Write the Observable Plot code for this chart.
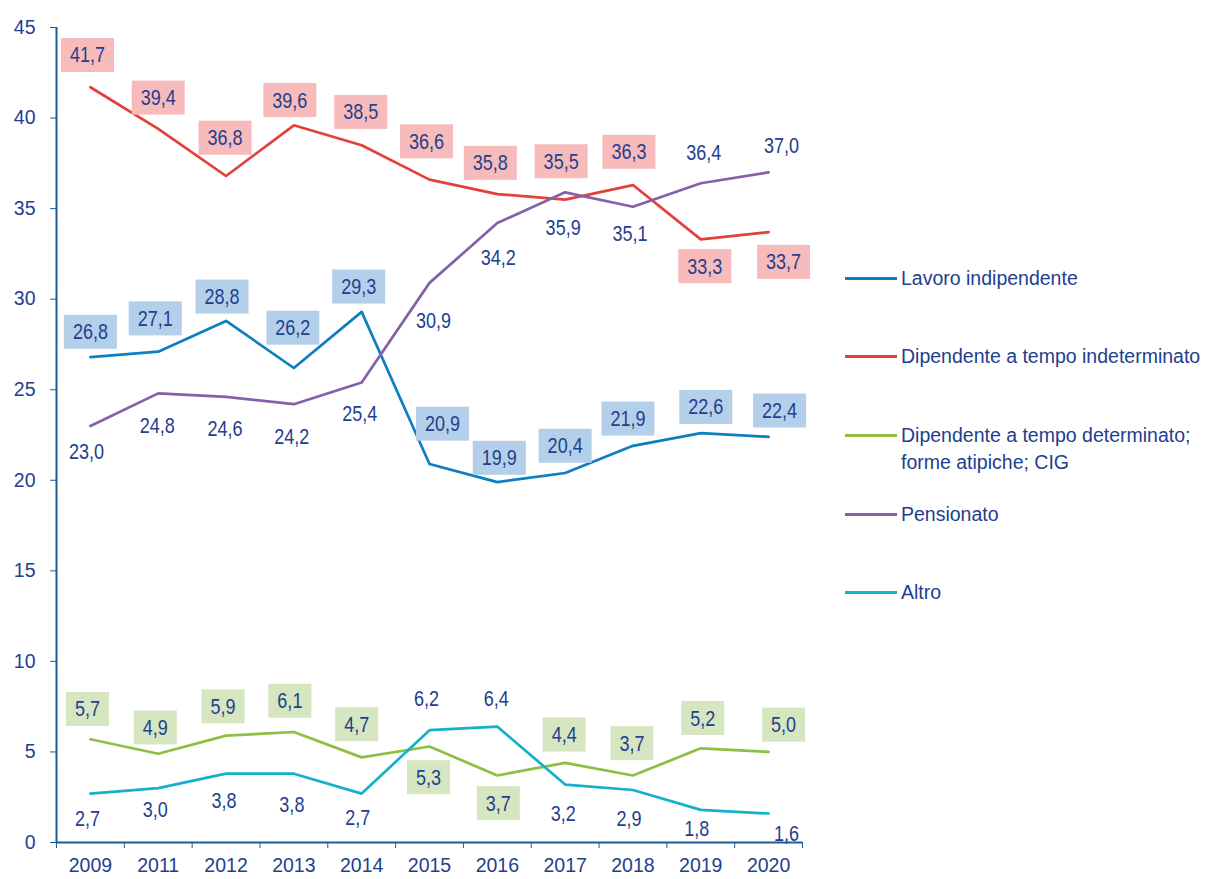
<!DOCTYPE html>
<html><head><meta charset="utf-8">
<script src="https://cdn.jsdelivr.net/npm/d3@7"></script>
<script src="https://cdn.jsdelivr.net/npm/@observablehq/plot@0.6"></script>
<style>
body{margin:0;background:#fff;}
#wrap{position:relative;width:1205px;height:879px;overflow:hidden;font-family:"Liberation Sans",Arial,sans-serif;}
.leg{position:absolute;left:845px;color:#22408e;font-size:19.5px;line-height:27px;}
.leg .sw{position:absolute;left:0;top:12px;width:52px;height:3px;}
.leg .tx{position:absolute;left:56px;top:0;white-space:nowrap;}
</style></head><body><div id="wrap"></div>
<script>
// ---- data ----
const years = ["2009","2011","2012","2013","2014","2015","2016","2017","2018","2019","2020"];
const lavoroIndipendente = [26.8,27.1,28.8,26.2,29.3,20.9,19.9,20.4,21.9,22.6,22.4];
const dipIndeterminato = [41.7,39.4,36.8,39.6,38.5,36.6,35.8,35.5,36.3,33.3,33.7];
const dipDeterminato = [5.7,4.9,5.9,6.1,4.7,5.3,3.7,4.4,3.7,5.2,5.0];
const pensionato = [23.0,24.8,24.6,24.2,25.4,30.9,34.2,35.9,35.1,36.4,37.0];
const altro = [2.7,3.0,3.8,3.8,2.7,6.2,6.4,3.2,2.9,1.8,1.6];
const seriesNames = ["Lavoro indipendente","Dipendente a tempo indeterminato","Dipendente a tempo determinato; forme atipiche; CIG","Pensionato","Altro"];
const yTicks = [0,5,10,15,20,25,30,35,40,45];

// ---- styling / layout ----
const W = 1205, H = 879, mL = 56, mR = 403, mT = 27, mB = 37;
const textColor = "#22408e", axisColor = "#1c5d98";
const seriesStyle = [
  {key:"lavoro", values: lavoroIndipendente, stroke:"#0f7ec0", box:"#b4cfe9",
   dx:[0,-3,-4,-1,-3,13,2,0,-5,5,11], dy:[-25,-33,-24,-40,-25,-40,-24,-27,-27,-26,-26]},
  {key:"indet", values: dipIndeterminato, stroke:"#e2403a", box:"#f6bbba",
   dx:[-3,0,-1,-4,-1,-3,-7,-4,-4,4,15], dy:[-32,-31,-38,-25,-33,-38,-31,-38,-33,27,30]},
  {key:"det", values: dipDeterminato, stroke:"#8dbf43", box:"#d5e6c0",
   dx:[-3,-3,-3,-4,-5,-1,1,-1,-1,2,15], dy:[-30,-26,-29,-31,-33,31,28,-28,-32,-30,-27]},
  {key:"pens", values: pensionato, stroke:"#8461a9", box:null,
   dx:[-4,-1,-1,-2,-2,4,1,-2,-3,3,13], dy:[26,32,32,33,31,38,35,35,27,-30,-27]},
  {key:"altro", values: altro, stroke:"#15b0c9", box:null,
   dx:[-3,-3,-2,-2,-4,-3,-1,-2,-4,-4,18], dy:[25,22,27,31,24,-31,-28,29,29,19,20]}
];
const legendY = [265, 343, 422, 501, 579];

const pxPerX = (W - mL - mR) / years.length;
const pxPerY = (H - mT - mB) / 45;
const fmt = v => d3.format(".1f")(v).replace(".", ",");

const marks = [];
// axes
marks.push(Plot.axisY({ticks: yTicks, tickSize: 6, tickPadding: 15, stroke: axisColor, fill: textColor, fontSize: 19.5, label: null}));
marks.push(Plot.axisX({ticks: d3.range(years.length + 1).map(i => i - 0.5), tickFormat: () => "", tickSize: 6, stroke: axisColor, label: null}));
marks.push(Plot.axisX({ticks: d3.range(years.length), tickFormat: i => years[i], tickSize: 0, tickPadding: 16, fill: textColor, fontSize: 19.5, label: null}));
marks.push(Plot.ruleX([-0.5], {stroke: axisColor, strokeWidth: 2}));
marks.push(Plot.ruleY([0], {stroke: axisColor, strokeWidth: 2}));
// lines
for (const s of seriesStyle) {
  const rows = s.values.map((v, i) => ({i, v}));
  marks.push(Plot.line(rows, {x: "i", y: "v", stroke: s.stroke, strokeWidth: 2.7}));
}
// labels
for (const s of seriesStyle) {
  const rows = s.values.map((v, i) => ({i, v, dx: s.dx[i], dy: s.dy[i]}));
  marks.push(Plot.text(rows, {
    x: d => d.i + d.dx / pxPerX,
    y: d => d.v - d.dy / pxPerY,
    text: d => fmt(d.v),
    fill: textColor, fontSize: 22.5, fontFamily: "'Liberation Sans',Arial,sans-serif",
    ariaDescription: "lab-" + s.key
  }));
}

const chart = Plot.plot({
  width: W, height: H,
  marginLeft: mL, marginRight: mR, marginTop: mT, marginBottom: mB,
  x: {type: "linear", domain: [-0.5, years.length - 0.5], label: null},
  y: {domain: [0, 45], label: null},
  style: {fontFamily: "'Liberation Sans',Arial,sans-serif", fontSize: "19px", color: textColor, background: "#fff"},
  marks
});
const wrap = document.getElementById("wrap");
wrap.appendChild(chart);

// condensed data labels + label boxes
for (const s of seriesStyle) {
  const g = chart.querySelector(`g[aria-description="lab-${s.key}"]`);
  if (!g) continue;
  for (const t of Array.from(g.querySelectorAll("text"))) {
    const b0 = t.getBBox();
    t.setAttribute("textLength", (b0.width * 0.8).toFixed(2));
    t.setAttribute("lengthAdjust", "spacingAndGlyphs");
    if (!s.box) continue;
    const b = t.getBBox();
    const r = document.createElementNS("http://www.w3.org/2000/svg", "rect");
    const w = b.width + 18, h = 34;
    r.setAttribute("x", b.x + b.width / 2 - w / 2);
    r.setAttribute("y", b.y + b.height / 2 - h / 2);
    r.setAttribute("width", w);
    r.setAttribute("height", h);
    r.setAttribute("fill", s.box);
    const tr = t.getAttribute("transform");
    if (tr) r.setAttribute("transform", tr);
    g.insertBefore(r, t);
  }
}

// legend
seriesStyle.forEach((s, k) => {
  const d = document.createElement("div");
  d.className = "leg";
  d.style.top = legendY[k] + "px";
  const sw = document.createElement("div");
  sw.className = "sw"; sw.style.background = s.stroke;
  const tx = document.createElement("div");
  tx.className = "tx";
  const name = seriesNames[k];
  if (name.includes("; forme")) {
    const p = name.split("; forme");
    tx.innerHTML = p[0] + ";<br>forme" + p[1];
  } else tx.textContent = name;
  d.appendChild(sw); d.appendChild(tx);
  wrap.appendChild(d);
});
</script></body></html>
